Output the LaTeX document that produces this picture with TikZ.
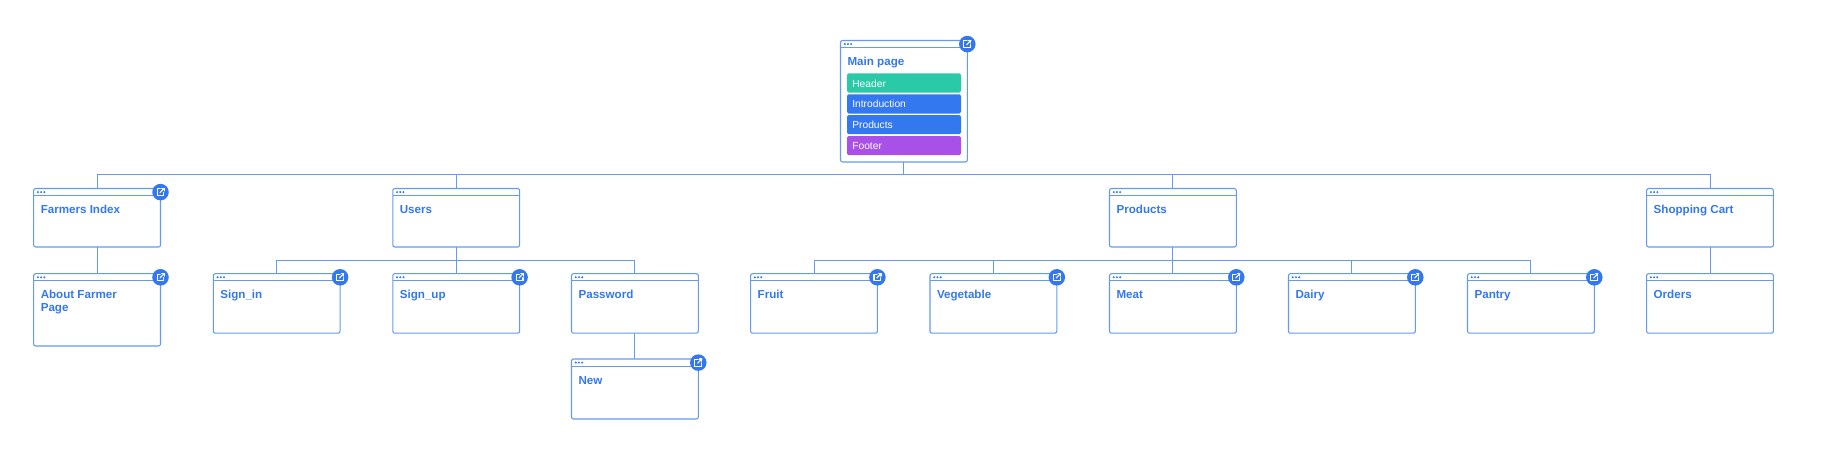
\documentclass[tikz,border=0pt]{standalone}
\usepackage{fontspec}
\setmainfont{Liberation Sans}
\definecolor{edgeblue}{HTML}{6499F4}
\definecolor{inkblue}{HTML}{3478F0}
\definecolor{tealbar}{HTML}{2AC9A8}
\definecolor{purplebar}{HTML}{A850E8}
\tikzset{
  x=0.75pt,y=-0.75pt,
  pagebox/.style={draw=edgeblue,line width=0.8pt,rounded corners=1.5pt,fill=white,anchor=north west,inner sep=0pt,outer sep=0pt,minimum width=95.1pt},
  pagetitle/.style={anchor=base west,inner sep=0pt,text=inkblue,font=\fontsize{8.7pt}{9.8pt}\selectfont\bfseries},
  headline/.style={draw=edgeblue,line width=0.7pt},
  dotmark/.style={fill=inkblue,draw=none},
  badge/.style={circle,fill=inkblue,draw=none,minimum size=12.4pt,inner sep=0pt},
  glyph/.style={draw=white,line width=0.85pt,line cap=round,line join=round},
  sectbar/.style={anchor=north west,rounded corners=1.2pt,draw=none,minimum width=85.5pt,minimum height=14.4pt,inner sep=0pt,outer sep=0pt},
  barlabel/.style={anchor=base west,inner sep=0pt,text=white,font=\fontsize{7.7pt}{9pt}\selectfont},
  link/.style={draw=edgeblue,line width=0.7pt},
}
% name, left x, top y, height in px, title
\newcommand{\pagewin}[5]{%
  \node[pagebox,minimum height=#4*0.75pt] (#1) at (#2,#3) {};
  \draw[headline] ([yshift=-5.3pt]#1.north west) -- ([yshift=-5.3pt]#1.north east);
  \fill[dotmark] ([xshift=3.2pt,yshift=-2.7pt]#1.north west) circle (0.85pt);
  \fill[dotmark] ([xshift=5.6pt,yshift=-2.7pt]#1.north west) circle (0.85pt);
  \fill[dotmark] ([xshift=8pt,yshift=-2.7pt]#1.north west) circle (0.85pt);
  \node[pagetitle] (#1-title) at ([xshift=5.1pt,yshift=-18.8pt]#1.north west) {#5};
}
\newcommand{\linkbadge}[1]{%
  \node[badge] (#1-badge) at ([yshift=-2.7pt]#1.north east) {};
  \begin{scope}[shift={(#1-badge.center)}]
    \draw[glyph] (-0.3,-3.2) -- (-3.4,-3.2) -- (-3.4,3.6) -- (3.4,3.6) -- (3.4,0.4);
    \draw[glyph] (-0.6,0.6) -- (3.6,-3.6);
    \draw[glyph] (1.2,-3.6) -- (3.6,-3.6) -- (3.6,-1.2);
  \end{scope}
}
\begin{document}
\begin{tikzpicture}
\useasboundingbox (0,0) rectangle (1839,454);
\fill[white] (0,0) rectangle (1839,454);

\pagewin{main}{840.5}{40.5}{121.5}{Main page}
\pagewin{farmers}{33.7}{188.5}{58.5}{Farmers Index}
\pagewin{users}{392.8}{188.5}{58.5}{Users}
\pagewin{products}{1109.5}{188.5}{58.5}{Products}
\pagewin{cart}{1646.6}{188.5}{58.5}{Shopping Cart}
\pagewin{about}{33.7}{273.7}{72.3}{\vtop{\hbox{About Farmer}\hbox{Page}}}
\pagewin{signin}{213.3}{273.7}{59.5}{Sign\_in}
\pagewin{signup}{392.8}{273.7}{59.5}{Sign\_up}
\pagewin{password}{571.5}{273.7}{59.5}{Password}
\pagewin{new}{571.5}{359}{60}{New}
\pagewin{fruit}{750.6}{273.7}{59.5}{Fruit}
\pagewin{vegetable}{930}{273.7}{59.5}{Vegetable}
\pagewin{meat}{1109.5}{273.7}{59.5}{Meat}
\pagewin{dairy}{1288.5}{273.7}{59.5}{Dairy}
\pagewin{pantry}{1467.5}{273.7}{59.5}{Pantry}
\pagewin{orders}{1646.6}{273.7}{59.5}{Orders}

\node[sectbar,fill=tealbar] (s1) at (847,73.3) {};
\node[sectbar,fill=inkblue] (s2) at (847,94.3) {};
\node[sectbar,fill=inkblue] (s3) at (847,115) {};
\node[sectbar,fill=purplebar] (s4) at (847,136) {};
\node[barlabel] (s1t) at (852,87) {Header};
\node[barlabel] (s2t) at (852,107.8) {Introduction};
\node[barlabel] (s3t) at (852,128.8) {Products};
\node[barlabel] (s4t) at (852,149.6) {Footer};

\foreach \c in {farmers,users,products,cart}{
  \draw[link] (main.south) -- ++(0,12.7) -| (\c.north);
}
\foreach \c in {signin,signup,password}{
  \draw[link] (users.south) -- ++(0,13.4) -| (\c.north);
}
\foreach \c in {fruit,vegetable,meat,dairy,pantry}{
  \draw[link] (products.south) -- ++(0,13.4) -| (\c.north);
}
\draw[link] (farmers.south) -- (about.north);
\draw[link] (password.south) -- (new.north);
\draw[link] (cart.south) -- (orders.north);

\foreach \c in {main,farmers,about,signin,signup,new,fruit,vegetable,meat,dairy,pantry}{
  \linkbadge{\c}
}
\end{tikzpicture}
\end{document}
